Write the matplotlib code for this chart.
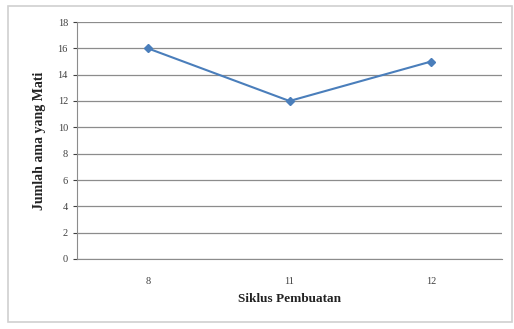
import matplotlib.pyplot as plt
from matplotlib.patches import Rectangle

# data
siklus = ["8", "11", "12"]
jumlah = [16, 12, 15]
y_ticks = [0, 2, 4, 6, 8, 10, 12, 14, 16, 18]

fig = plt.figure(figsize=(5.14, 3.29), dpi=100)
fig.patch.set_facecolor("white")

# outer chart frame
fig.patches.append(Rectangle((8 / 514, 7 / 329), 504 / 514, 316 / 329,
                             transform=fig.transFigure, fill=False,
                             edgecolor="#d0d0d0", linewidth=1.2))

ax = fig.add_axes([77 / 514, 1 - 259 / 329, 425 / 514, 237 / 329])
x = list(range(len(siklus)))
ax.plot(x, jumlah, color="#4a7ebb", linewidth=1.5, marker="D", markersize=4,
        markerfacecolor="#4a7ebb", markeredgecolor="#4a7ebb")

ax.set_xlim(-0.5, len(siklus) - 0.5)
ax.set_ylim(0, 18)
ax.set_yticks(y_ticks)
ax.set_xticks(x)
ax.set_xticklabels(siklus)
ax.grid(axis="y", color="#8c8c8c", linewidth=0.9)
ax.set_axisbelow(True)
for side in ["top", "right"]:
    ax.spines[side].set_visible(False)
ax.spines["left"].set_color("#8c8c8c")
ax.spines["bottom"].set_color("#8c8c8c")
ax.tick_params(axis="both", labelsize=7.5, colors="#404040", length=3)
ax.tick_params(axis="x", length=0, pad=13)
for lbl in ax.get_xticklabels() + ax.get_yticklabels():
    lbl.set_family("Liberation Serif")

ax.set_xlabel("Siklus Pembuatan", fontsize=9.5, fontweight="bold",
              family="Liberation Serif", color="#222222", labelpad=5)
ax.set_ylabel("Jumlah ama yang Mati", fontsize=10, fontweight="bold",
              family="Liberation Serif", color="#222222", labelpad=8)

fig.savefig("out.png", dpi=100)
